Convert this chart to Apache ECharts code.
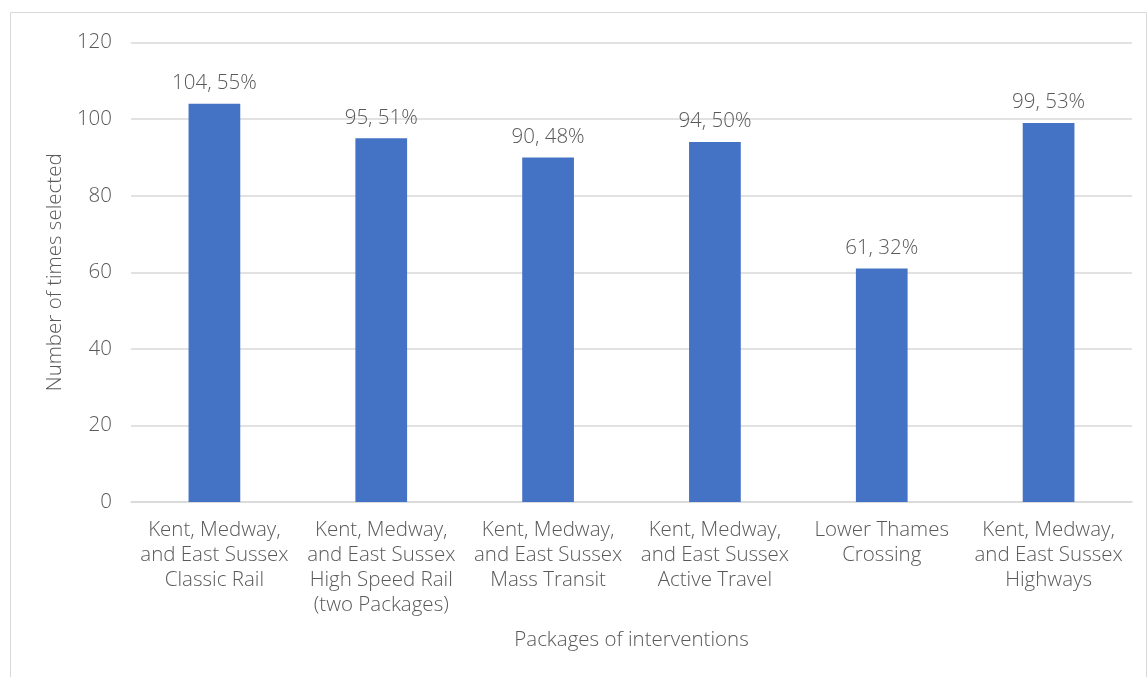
<!DOCTYPE html>
<html>
<head>
<meta charset="utf-8">
<script src="https://cdn.jsdelivr.net/npm/echarts@6/dist/echarts.min.js"></script>
<style>
  html, body { margin: 0; padding: 0; background: #ffffff; }
  #chart { width: 1147px; height: 677px; }
</style>
</head>
<body>
<div id="chart"></div>
<script>
// Package names (line breaks as shown under each bar)
const categories = [
  'Kent, Medway,\nand East Sussex\nClassic Rail',
  'Kent, Medway,\nand East Sussex\nHigh Speed Rail\n(two Packages)',
  'Kent, Medway,\nand East Sussex\nMass Transit',
  'Kent, Medway,\nand East Sussex\nActive Travel',
  'Lower Thames\nCrossing',
  'Kent, Medway,\nand East Sussex\nHighways'
];
// Number of times each package was selected
const timesSelected = [104, 95, 90, 94, 61, 99];
// Share of respondents selecting each package (%)
const shareSelected = [55, 51, 48, 50, 32, 53];
// Value axis ticks
const yTicks = [0, 20, 40, 60, 80, 100, 120];

const FONT = '"Open Sans", "Noto Sans", sans-serif';
const WEIGHT = 300;
const SIZE = 20.5;
const TEXT = '#595959';
const GRID = '#d9d9d9';

const chart = echarts.init(document.getElementById('chart'), null, { renderer: 'canvas' });

chart.setOption({
  backgroundColor: '#ffffff',
  animation: false,
  textStyle: { fontFamily: FONT, color: TEXT, fontWeight: WEIGHT },
  graphic: [{
    type: 'rect',
    shape: { x: 10.5, y: 12.5, width: 1136, height: 700 },
    style: { fill: 'none', stroke: GRID, lineWidth: 1 },
    silent: true,
    z: -1
  }],
  grid: { left: 131, right: 15, top: 42.5, bottom: 175, containLabel: false },
  xAxis: {
    type: 'category',
    data: categories,
    name: 'Packages of interventions',
    nameLocation: 'middle',
    nameGap: 128,
    nameTextStyle: { fontFamily: FONT, fontSize: SIZE, fontWeight: WEIGHT, color: TEXT },
    axisLine: { show: true, lineStyle: { color: GRID, width: 1.5 } },
    axisTick: { show: false },
    axisLabel: {
      interval: 0,
      margin: 16,
      fontFamily: FONT,
      fontSize: SIZE,
      fontWeight: WEIGHT,
      lineHeight: 25,
      color: TEXT,
      align: 'center',
      verticalAlign: 'top'
    }
  },
  yAxis: {
    type: 'value',
    min: yTicks[0],
    max: yTicks[yTicks.length - 1],
    interval: yTicks[1] - yTicks[0],
    name: 'Number of times selected',
    nameLocation: 'middle',
    nameGap: 63,
    nameRotate: 90,
    nameTextStyle: { fontFamily: FONT, fontSize: SIZE, fontWeight: WEIGHT, color: TEXT },
    axisLine: { show: false },
    axisTick: { show: false },
    axisLabel: { margin: 19, fontFamily: FONT, fontSize: SIZE, fontWeight: WEIGHT, color: TEXT },
    splitLine: { show: true, lineStyle: { color: GRID, width: 1.5 } }
  },
  series: [{
    type: 'bar',
    data: timesSelected,
    barWidth: '31%',
    itemStyle: { color: '#4472C4' },
    label: {
      show: true,
      position: 'top',
      distance: 10,
      fontFamily: FONT,
      fontSize: SIZE,
      fontWeight: WEIGHT,
      color: TEXT,
      formatter: p => p.value + ', ' + shareSelected[p.dataIndex] + '%'
    }
  }]
});
</script>
</body>
</html>
